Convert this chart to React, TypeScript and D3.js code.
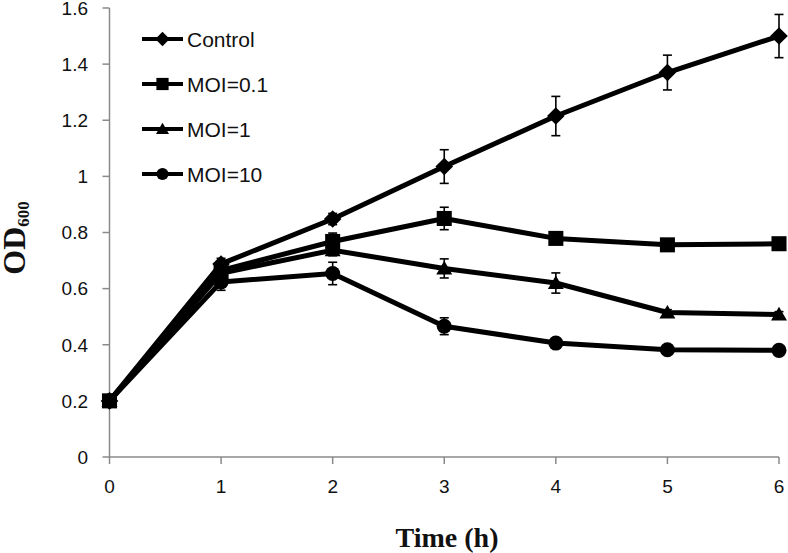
import React from "react";
import * as d3 from "d3";

const times = [0, 1, 2, 3, 4, 5, 6];
const seriesNames = ["Control", "MOI=0.1", "MOI=1", "MOI=10"];
const controlValues = [0.2, 0.688, 0.848, 1.035, 1.215, 1.37, 1.5];
const moi01Values = [0.2, 0.665, 0.768, 0.85, 0.779, 0.756, 0.76];
const moi1Values = [0.2, 0.655, 0.737, 0.672, 0.62, 0.515, 0.508];
const moi10Values = [0.2, 0.624, 0.654, 0.466, 0.406, 0.382, 0.38];
const controlErr = [0.005, 0.02, 0.02, 0.06, 0.07, 0.062, 0.077];
const moi01Err = [0.005, 0.02, 0.03, 0.04, 0.02, 0.01, 0.01];
const moi1Err = [0.005, 0.02, 0.02, 0.034, 0.036, 0.01, 0.01];
const moi10Err = [0.005, 0.03, 0.04, 0.03, 0.015, 0.01, 0.01];
const markerKinds = ["diamond", "square", "triangle", "circle"];
const yTicks = [0, 0.2, 0.4, 0.6, 0.8, 1, 1.2, 1.4, 1.6];
const xTicks = [0, 1, 2, 3, 4, 5, 6];

const W = 788;
const H = 553;
const x = d3.scaleLinear().domain([0, 6]).range([109.5, 779]);
const y = d3.scaleLinear().domain([0, 1.6]).range([457, 8]);

function Marker({ kind, cx, cy, s }: { kind: string; cx: number; cy: number; s: number }) {
  if (kind === "diamond") {
    const h = s * 0.55;
    return <path d={`M${cx},${cy - h}L${cx + h},${cy}L${cx},${cy + h}L${cx - h},${cy}Z`} fill="#000" />;
  }
  if (kind === "square") {
    const h = s * 0.47;
    return <rect x={cx - h} y={cy - h} width={2 * h} height={2 * h} fill="#000" />;
  }
  if (kind === "triangle") {
    const h = s * 0.5;
    return <path d={`M${cx},${cy - h * 0.95}L${cx + h},${cy + h * 0.75}L${cx - h},${cy + h * 0.75}Z`} fill="#000" />;
  }
  return <circle cx={cx} cy={cy} r={s * 0.47} fill="#000" />;
}

export default function App() {
  const values = [controlValues, moi01Values, moi1Values, moi10Values];
  const errs = [controlErr, moi01Err, moi1Err, moi10Err];
  const line = d3
    .line<number>()
    .x((_, i) => x(times[i]))
    .y((v) => y(v));
  const axisColor = "#8a8a8a";
  return (
    <svg width={W} height={H} style={{ position: "absolute", left: 0, top: 0, background: "#fff" }}>
      <rect width={W} height={H} fill="#fff" />
      <line x1={x(0)} x2={x(0)} y1={y(1.6)} y2={y(0)} stroke={axisColor} strokeWidth={1.5} />
      <line x1={x(0)} x2={x(6)} y1={y(0)} y2={y(0)} stroke={axisColor} strokeWidth={1.5} />
      {yTicks.map((t) => (
        <g key={"y" + t}>
          <line x1={x(0) - 7} x2={x(0)} y1={y(t)} y2={y(t)} stroke={axisColor} strokeWidth={1.5} />
          <text x={88} y={y(t)} dy="0.36em" textAnchor="end" fontFamily="Liberation Sans, Arial, sans-serif" fontSize={19} fill="#111">
            {String(t)}
          </text>
        </g>
      ))}
      {xTicks.map((t) => (
        <g key={"x" + t}>
          <line x1={x(t)} x2={x(t)} y1={y(0)} y2={y(0) + 7} stroke={axisColor} strokeWidth={1.5} />
          <text x={x(t)} y={493} textAnchor="middle" fontFamily="Liberation Sans, Arial, sans-serif" fontSize={19} fill="#111">
            {String(t)}
          </text>
        </g>
      ))}
      <text x={447} y={547} textAnchor="middle" fontFamily="Liberation Serif, Times New Roman, serif" fontWeight="bold" fontSize={28} fill="#111">
        Time (h)
      </text>
      <text
        transform={`translate(25,238) rotate(-90)`}
        textAnchor="middle"
        fontFamily="Liberation Serif, Times New Roman, serif"
        fontWeight="bold"
        fontSize={32}
        fill="#111"
      >
        OD<tspan fontSize={17} dy={4}>600</tspan>
      </text>
      {values.map((vals, si) =>
        vals.map((v, i) => {
          const e = errs[si][i];
          const cx = x(times[i]);
          return (
            <g key={`e${si}-${i}`} stroke="#000" strokeWidth={1.6}>
              <line x1={cx} x2={cx} y1={y(v + e)} y2={y(v - e)} />
              <line x1={cx - 4.5} x2={cx + 4.5} y1={y(v + e)} y2={y(v + e)} />
              <line x1={cx - 4.5} x2={cx + 4.5} y1={y(v - e)} y2={y(v - e)} />
            </g>
          );
        })
      )}
      {values.map((vals, si) => (
        <path key={"l" + si} d={line(vals) || ""} fill="none" stroke="#000" strokeWidth={5} strokeLinejoin="round" />
      ))}
      {values.map((vals, si) =>
        vals.map((v, i) => <Marker key={`m${si}-${i}`} kind={markerKinds[si]} cx={x(times[i])} cy={y(v)} s={16} />)
      )}
      {seriesNames.map((name, i) => {
        const ly = 39 + i * 45;
        return (
          <g key={"lg" + i}>
            <line x1={142} x2={183} y1={ly} y2={ly} stroke="#000" strokeWidth={4} />
            <Marker kind={markerKinds[i]} cx={162.5} cy={ly} s={13} />
            <text x={187} y={ly} dy="0.36em" fontFamily="Liberation Sans, Arial, sans-serif" fontSize={21} fill="#111">
              {name}
            </text>
          </g>
        );
      })}
    </svg>
  );
}
